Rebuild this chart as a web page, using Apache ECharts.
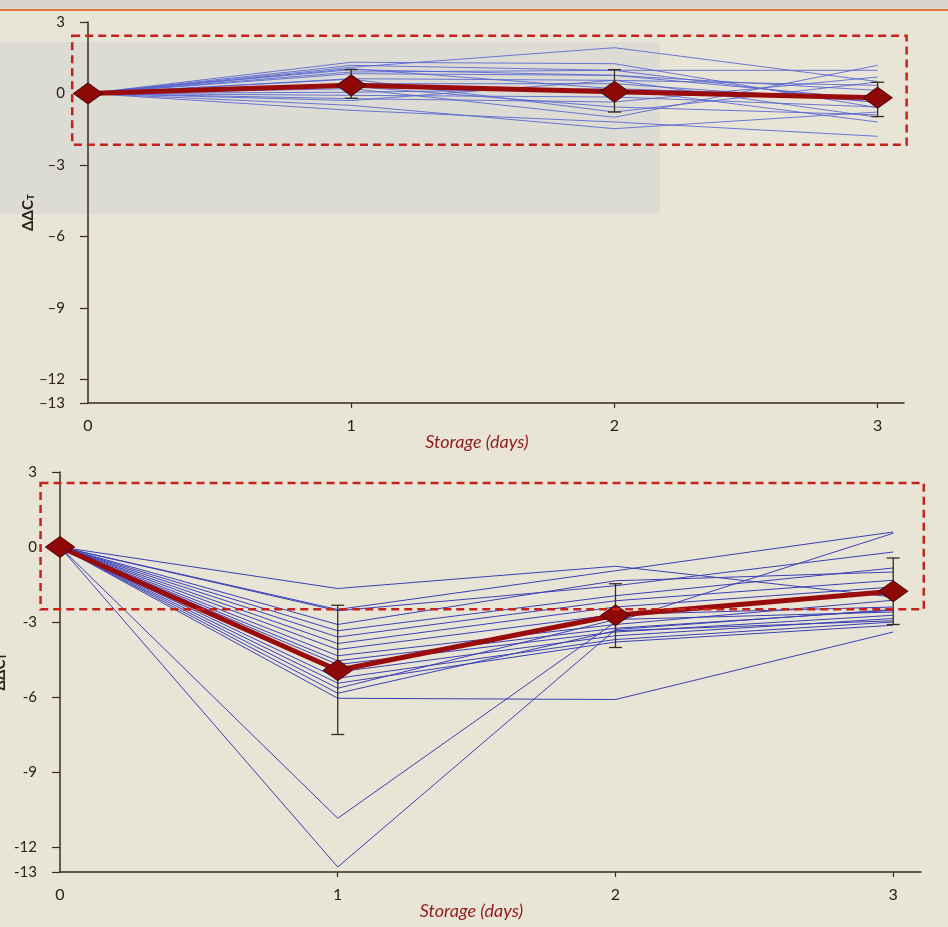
<!DOCTYPE html>
<html>
<head>
<meta charset="utf-8">
<script src="https://cdn.jsdelivr.net/npm/echarts@6/dist/echarts.min.js"></script>
<style>
html,body{margin:0;padding:0;background:#e9e5d6;}
#c{width:948px;height:927px;}
</style>
</head>
<body>
<div id="c"></div>
<script>
// ---------- data ----------
const days = [0, 1, 2, 3];
const yTickValues = [3, 0, -3, -6, -9, -12, -13];
const xTickValues = [0, 1, 2, 3];

// Top panel: individual samples (ΔΔCT at day 0,1,2,3)
const topSamples = [
  [0, 1.10, 1.92, 0.50],
  [0, 1.31, 1.25, -0.60],
  [0, 1.18, 0.97, 0.97],
  [0, 1.04, 0.20, -1.20],
  [0, 0.83, 0.76, 0.13],
  [0, 0.62, 0.55, 0.34],
  [0, 0.41, 0.41, -0.36],
  [0, 0.20, -1.00, 1.18],
  [0, 0.05, 0.20, -0.15],
  [0, -0.08, -0.15, -0.57],
  [0, -0.22, -0.36, 0.69],
  [0, -0.50, -1.48, -0.78],
  [0, -0.71, -1.20, -1.80],
  [0, 0.90, 0.97, -0.40],
  [0, 0.30, -0.57, -0.90],
  [0, 0.60, -0.78, 0.48],
  [0, -0.30, 0.55, -1.00],
  [0, 1.00, 0.76, -0.25]
];
const topMean = [0, 0.34, 0.07, -0.18];
const topErrLow = [null, -0.20, -0.78, -0.97];
const topErrHigh = [null, 1.00, 1.00, 0.47];
const topBox = [-0.06, 2.42, 3.11, -2.15]; // xmin, ymax, xmax, ymin

// Bottom panel
const bottomSamples = [
  [0, -1.66, -0.77, -2.00],
  [0, -2.50, -0.95, 0.60],
  [0, -2.55, -1.55, -0.20],
  [0, -3.10, -1.35, -1.00],
  [0, -3.35, -1.95, -0.84],
  [0, -3.60, -2.15, -1.33],
  [0, -3.86, -2.40, -1.60],
  [0, -4.10, -2.70, -2.40],
  [0, -4.35, -3.10, -2.13],
  [0, -4.55, -3.25, -2.53],
  [0, -4.70, -3.40, -2.73],
  [0, -5.00, -3.55, -2.86],
  [0, -5.25, -3.70, -3.00],
  [0, -5.45, -3.80, -3.13],
  [0, -5.65, -2.90, -2.60],
  [0, -5.85, -3.35, -2.95],
  [0, -6.05, -6.10, -3.40],
  [0, -10.85, -3.00, 0.55],
  [0, -12.80, -3.30, -2.50]
];
const bottomMean = [0, -4.93, -2.73, -1.77];
const bottomErrLow = [null, -7.50, -4.02, -3.10];
const bottomErrHigh = [null, -2.33, -1.47, -0.44];
const bottomBox = [-0.07, 2.56, 3.11, -2.49];

// ---------- styling ----------
const axisCol = '#3a2b1f';
const textCol = '#2b2119';
const redCol = '#9a0c0c';
const nameCol = '#8e1c1c';
const font = 'Lato';

function pairs(vals) { return days.map((d, i) => [d, vals[i]]); }
function errData(lo, hi) {
  const out = [];
  days.forEach((d, i) => { if (lo[i] !== null) out.push([d, lo[i], hi[i]]); });
  return out;
}
function renderErr(params, api) {
  const x = api.value(0), lo = api.value(1), hi = api.value(2);
  const p1 = api.coord([x, hi]), p2 = api.coord([x, lo]);
  const hw = 6.5;
  const st = { stroke: axisCol, lineWidth: 1.3 };
  return { type: 'group', children: [
    { type: 'line', shape: { x1: p1[0], y1: p1[1], x2: p2[0], y2: p2[1] }, style: st },
    { type: 'line', shape: { x1: p1[0] - hw, y1: p1[1], x2: p1[0] + hw, y2: p1[1] }, style: st },
    { type: 'line', shape: { x1: p2[0] - hw, y1: p2[1], x2: p2[0] + hw, y2: p2[1] }, style: st }
  ]};
}

function xAxisCfg(gi) {
  return {
    type: 'value', gridIndex: gi, min: 0, max: 3.1,
    name: 'Storage (days)', nameLocation: 'middle', nameGap: 30, nameMoveOverlap: false,
    nameTextStyle: { color: nameCol, fontFamily: font, fontStyle: 'italic', fontSize: 18, padding: [0, 38, 0, 0] },
    axisLine: { onZero: false, lineStyle: { color: axisCol, width: 1.5 } },
    axisTick: { show: true, length: 5, customValues: [1, 2, 3], lineStyle: { color: axisCol, width: 1.2 } },
    axisLabel: { customValues: xTickValues, margin: 15, color: textCol, fontFamily: font, fontSize: 16 },
    splitLine: { show: false }
  };
}
function yAxisCfg(gi, dash) {
  return {
    type: 'value', gridIndex: gi, min: -13, max: 3,
    name: '{a|ΔΔC}{b|T}', nameLocation: 'middle', nameGap: 52, nameRotate: 90, nameMoveOverlap: false,
    nameTextStyle: { rich: {
      a: { fontFamily: font, fontSize: 15, fontWeight: 'bold', color: textCol },
      b: { fontFamily: font, fontSize: 10, fontWeight: 'bold', color: textCol, padding: [6, 0, 0, 0] }
    } },
    axisLine: { onZero: false, lineStyle: { color: axisCol, width: 1.5 } },
    axisTick: { show: true, length: 8, customValues: yTickValues, lineStyle: { color: axisCol, width: 1.2 } },
    axisLabel: { customValues: yTickValues, margin: 23, color: textCol, fontFamily: font, fontSize: 15,
      formatter: v => (v < 0 ? dash + Math.abs(v) : String(v)) },
    splitLine: { show: false }
  };
}

const series = [];
function addPanel(gi, samples, mean, lo, hi, blue, blueOpacity) {
  samples.forEach(s => series.push({
    type: 'line', xAxisIndex: gi, yAxisIndex: gi, data: pairs(s), symbol: 'none', silent: true, z: 2,
    lineStyle: { color: blue, width: 1, opacity: blueOpacity }, animation: false
  }));
  series.push({
    type: 'custom', xAxisIndex: gi, yAxisIndex: gi, data: errData(lo, hi), renderItem: renderErr, z: 3,
    animation: false, silent: true
  });
  series.push({
    type: 'line', xAxisIndex: gi, yAxisIndex: gi, data: pairs(mean), z: 4,
    symbol: 'diamond', symbolSize: [29, 21], showAllSymbol: true,
    lineStyle: { color: redCol, width: 5 },
    itemStyle: { color: '#8e0808', borderColor: '#4a0505', borderWidth: 1 },
    animation: false, silent: true
  });
}
addPanel(0, topSamples, topMean, topErrLow, topErrHigh, '#5461d0', 0.85);
addPanel(1, bottomSamples, bottomMean, bottomErrLow, bottomErrHigh, '#3a40b6', 1);

const chart = echarts.init(document.getElementById('c'), null, { renderer: 'canvas' });
chart.setOption({
  backgroundColor: '#e9e5d6',
  animation: false,
  grid: [
    { left: 88, top: 22, width: 816, height: 381, containLabel: false, outerBoundsMode: 'none' },
    { left: 60, top: 472, width: 861, height: 400, containLabel: false, outerBoundsMode: 'none' }
  ],
  xAxis: [xAxisCfg(0), xAxisCfg(1)],
  yAxis: [yAxisCfg(0, '–'), yAxisCfg(1, '-')],
  graphic: [
    { id: 'bgTop', type: 'rect', z: -100, silent: true, shape: { x: 0, y: 0, width: 948, height: 9 }, style: { fill: '#d9d6cc' } },
    { id: 'orange', type: 'rect', z: -99, silent: true, shape: { x: 0, y: 9, width: 948, height: 2 }, style: { fill: '#e2793e' } },
    { id: 'band', type: 'rect', z: -98, silent: true, shape: { x: 0, y: 42, width: 660, height: 172 }, style: { fill: '#dcdcd5' } }
  ],
  series: series
});

function boxGraphic(id, gi, b) {
  const p1 = chart.convertToPixel({ gridIndex: gi }, [b[0], b[1]]);
  const p2 = chart.convertToPixel({ gridIndex: gi }, [b[2], b[3]]);
  return {
    id: id, type: 'rect', z: 50, silent: true,
    shape: { x: p1[0], y: p1[1], width: p2[0] - p1[0], height: p2[1] - p1[1] },
    style: { fill: 'none', stroke: '#c4231c', lineWidth: 2.5, lineDash: [8, 5] }
  };
}
chart.setOption({ graphic: [boxGraphic('boxTop', 0, topBox), boxGraphic('boxBottom', 1, bottomBox)] });
</script>
</body>
</html>
